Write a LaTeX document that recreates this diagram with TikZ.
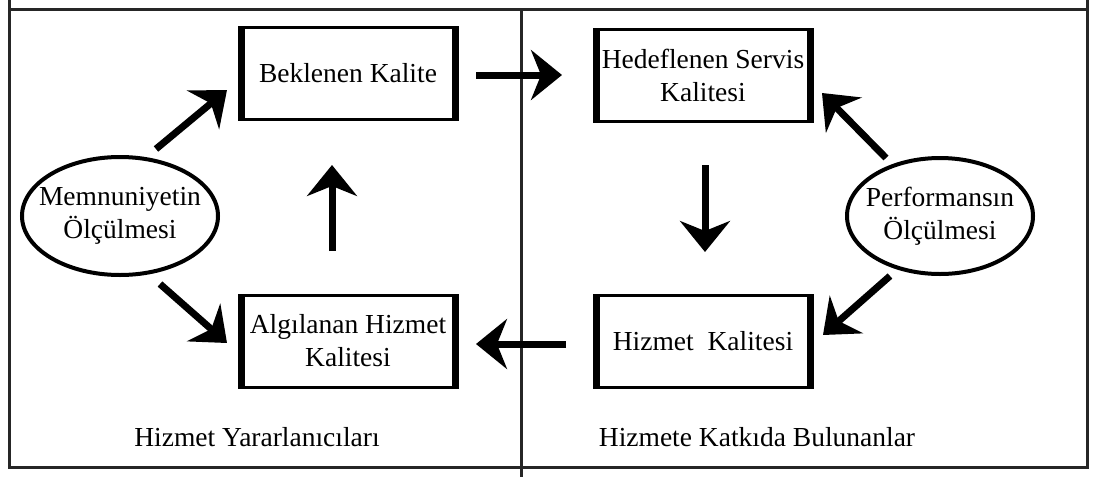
\documentclass[tikz,border=0pt]{standalone}
\usepackage{fontspec}
\setmainfont{Liberation Serif}
\usetikzlibrary{arrows.meta,shapes.geometric}
\begin{document}
\begin{tikzpicture}[x=1pt,y=-1pt,
  txt/.style={font=\fontsize{27.5}{33}\selectfont, align=center, outer sep=0pt},
  qbox/.style={txt, draw, line width=3pt, minimum width=218pt, minimum height=92pt, inner sep=0pt,
    path picture={
      \fill ([xshift=-2pt,yshift=2pt]path picture bounding box.north west) rectangle ([xshift=5.5pt,yshift=-2pt]path picture bounding box.south west);
      \fill ([xshift=2pt,yshift=2pt]path picture bounding box.north east) rectangle ([xshift=-5.5pt,yshift=-2pt]path picture bounding box.south east);}},
  meas/.style={txt, ellipse, draw, line width=4pt, inner xsep=-18pt, inner ysep=4pt},
  arr/.style={line width=7pt, -{Stealth[length=31pt, width=50pt, inset=10pt]}},
  frame/.style={line width=3pt, draw=black!85}
]
\useasboundingbox (0,0) rectangle (1093,477);

% table frame and column divider
\draw[frame] (9,0) -- (9,467) -- (1087,467) -- (1087,0);
\draw[frame] (9,9) -- (1087,9);
\draw[frame] (521,9) -- (521,477);

% quality boxes
\node[qbox] (b)  at (348,73)  {Beklenen Kalite};
\node[qbox] (hd) at (703,75)  {Hedeflenen Servis\\Kalitesi};
\node[qbox] (a)  at (348,341) {Algılanan Hizmet\\Kalitesi};
\node[qbox] (hk) at (703,341) {Hizmet\ \ Kalitesi};

% measurement ellipses
\node[meas, minimum width=196pt, minimum height=118pt] (m) at (120,216) {Memnuniyetin\\Ölçülmesi};
\node[meas, minimum width=186pt, minimum height=116pt] (p) at (940,216) {Performansın\\Ölçülmesi};

% column captions
\node[txt] (ly) at (257,437) {Hizmet Yararlanıcıları};
\node[txt] (lk) at (757,437) {Hizmete Katkıda Bulunanlar};

% flows
\draw[arr] ([shift={(36,-8)}]m.north) -- ([shift={(-12,17)}]b.west);
\draw[arr] ([shift={(-16,-44)}]a.north) -- ([shift={(-16,46)}]b.south);
\draw[arr] ([shift={(40,9)}]m.south) -- ([shift={(-12,2)}]a.west);
\draw[arr] ([shift={(19,2)}]b.east) -- ([shift={(-32,0)}]hd.west);
\draw[arr] ([shift={(2,44)}]hd.south) -- ([shift={(2,-43)}]hk.north);
\draw[arr] ([shift={(-54,0)}]p.north) -- ([shift={(10,18)}]hd.east);
\draw[arr] ([shift={(-50,2)}]p.south) -- ([shift={(11,-6)}]hk.east);
\draw[arr] ([shift={(-28,3)}]hk.west) -- ([shift={(19,3)}]a.east);
\end{tikzpicture}
\end{document}
